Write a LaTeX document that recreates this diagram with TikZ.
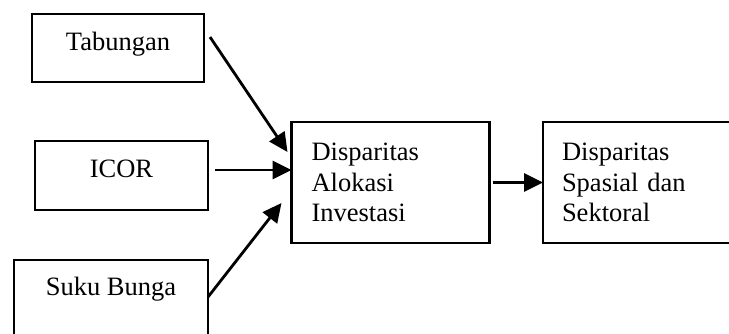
\documentclass[tikz,border=0pt]{standalone}
\usepackage{fontspec}
\setmainfont{Liberation Serif}
\usetikzlibrary{arrows.meta}

\tikzset{
  factor/.style={draw, line width=2.2pt, outer sep=0pt, inner xsep=0pt, inner ysep=0pt,
    text height=36pt, align=center},
  result/.style={draw, line width=2.2pt, outer sep=0pt, minimum height=121pt,
    text width=158pt, inner xsep=20pt, align=left},
  flow/.style={line width=2.8pt, -{Triangle[length=19pt,width=18pt]}}
}

\begin{document}
\begin{tikzpicture}[x=1pt, y=-1pt, font=\fontsize{26.5}{30.5}\selectfont]
  \clip (0,0) rectangle (729,333);
  \useasboundingbox (0,0) rectangle (729,333);

  % the three factors
  \node[factor, minimum width=172pt, text depth=32pt] (tabungan) at (118,48) {Tabungan};
  \node[factor, minimum width=173pt, text depth=33pt] (icor) at (121.5,175.5) {ICOR};
  \node[factor, minimum width=194pt, text depth=65pt, text height=35pt] (sukubunga) at (111,310) {Suku Bunga};

  % the two results
  \node[result] (alokasi) at (390.5,182.5) {Disparitas\\Alokasi\\Investasi};
  \node[result, text width=169pt, inner xsep=19pt] (spasial) at (646.5,182.5) {Disparitas\\Spasial dan\\Sektoral};

  \draw[flow] ([shift={(6,-11)}]tabungan.east) -- ([shift={(-4,-30.5)}]alokasi.west);
  \draw[flow] ([shift={(7,-5.5)}]icor.east) -- ([shift={(0,-12.5)}]alokasi.west);
  \draw[flow] ([shift={(0,37)}]sukubunga.north east) -- ([shift={(-10,20.5)}]alokasi.west);

  \draw[flow] ([xshift=3pt]alokasi.east) -- (spasial.west);

\end{tikzpicture}
\end{document}
